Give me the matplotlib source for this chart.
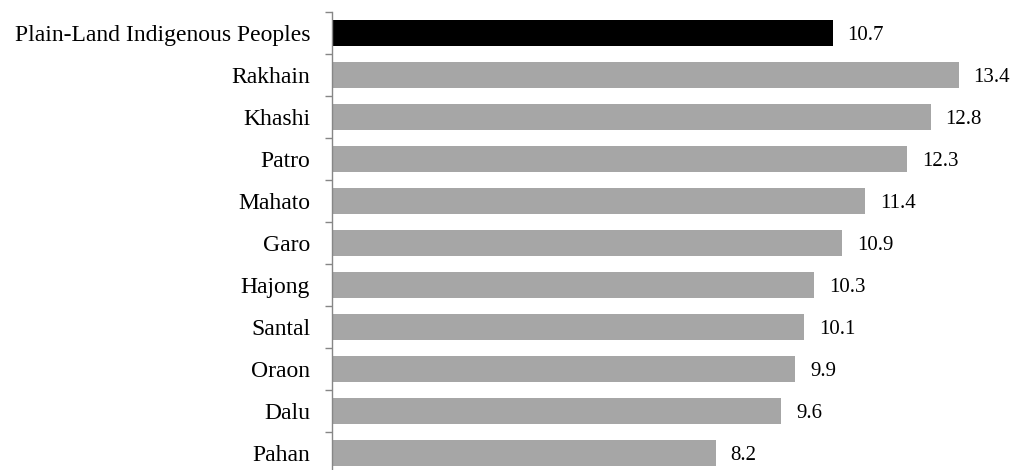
import matplotlib
matplotlib.use("Agg")
import matplotlib.pyplot as plt
import numpy as np

categories = ["Plain-Land Indigenous Peoples", "Rakhain", "Khashi", "Patro", "Mahato",
              "Garo", "Hajong", "Santal", "Oraon", "Dalu", "Pahan"]
values = [10.7, 13.4, 12.8, 12.3, 11.4, 10.9, 10.3, 10.1, 9.9, 9.6, 8.2]
colors = ["#000000"] + ["#A6A6A6"] * (len(categories) - 1)

plt.rcParams['font.family'] = ['Liberation Serif', 'DejaVu Serif']

W, H = 1016, 470
fig = plt.figure(figsize=(W / 100, H / 100), dpi=100)
left_px, right_px, top_px, bot_px = 332, 1009, 12, 474
ax = fig.add_axes([left_px / W, 1 - bot_px / H, (right_px - left_px) / W, (bot_px - top_px) / H])

y = np.arange(len(categories))
ax.barh(y, values, height=0.6, color=colors, left=0.02)
for yi, v in zip(y, values):
    ax.text(v + 0.02 + 0.32, yi + 0.05, f"{v:.1f}", va="center", ha="left",
            fontsize=15, color="#000000")

ax.set_xlim(0, 14.5)
ax.set_ylim(len(categories) - 0.5, -0.5)
ax.set_yticks(y)
ax.set_yticklabels(categories, fontsize=17)
ax.set_yticks(np.arange(-0.5, len(categories) + 0.5, 1), minor=True)
ax.tick_params(axis='y', which='major', length=0, pad=15.8)
ax.tick_params(axis='y', which='minor', length=5, width=1, color="#868686", direction='out')
ax.set_xticks([])
for s in ["top", "right", "bottom"]:
    ax.spines[s].set_visible(False)
ax.spines["left"].set_color("#868686")
ax.spines["left"].set_linewidth(1)

fig.savefig("out.png", dpi=100)
